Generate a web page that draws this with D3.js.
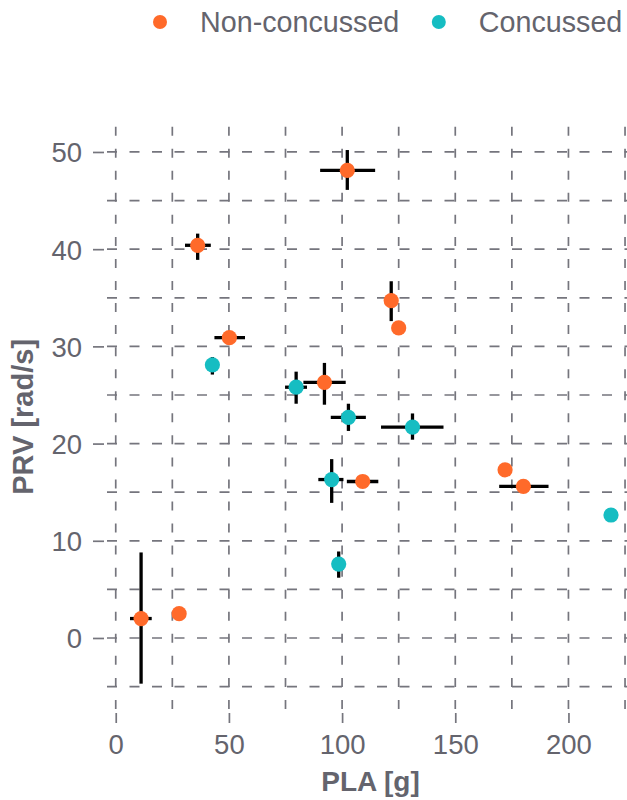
<!DOCTYPE html>
<html>
<head>
<meta charset="utf-8">
<script src="https://cdn.jsdelivr.net/npm/d3@7"></script>
<style>
  html, body { margin: 0; padding: 0; background: #ffffff; }
  svg { display: block; font-family: "Liberation Sans", Arial, sans-serif; }
</style>
</head>
<body>
<svg id="chart" width="627" height="800"></svg>
<script>
// ---- data ----
const groups = ["Non-concussed", "Concussed"];
const colors = ["#FF6A2A", "#16BDC2"];

const nonPLA    = [102.3, 36.2, 50.2, 121.7, 125.0, 92.2, 109.1, 172.0, 180.1, 11.2, 28.0];
const nonPRV    = [48.1, 40.4, 30.9, 34.7, 31.9, 26.3, 16.1, 17.3, 15.6, 2.0, 2.5];
const nonPLAlo  = [90.3, 30.6, 43.6, null, null, 82.9, 102.1, null, 169.4, 6.3, null];
const nonPLAhi  = [114.6, 42.0, 57.1, null, null, 101.6, 116.0, null, 191.2, 15.9, null];
const nonPRVlo  = [46.1, 38.9, null, 32.6, null, 24.0, null, null, null, -4.7, null];
const nonPRVhi  = [50.2, 41.6, null, 36.7, null, 28.3, null, null, null, 8.8, null];

const conPLA    = [42.7, 79.7, 102.8, 131.1, 95.4, 98.5, 218.8];
const conPRV    = [28.1, 25.8, 22.7, 21.7, 16.3, 7.6, 12.65];
const conPLAlo  = [null, 74.8, 95.0, 117.2, 89.5, null, null];
const conPLAhi  = [null, 84.5, 110.5, 144.8, 100.6, null, null];
const conPRVlo  = [27.1, 24.1, 21.3, 20.4, 13.9, 6.2, null];
const conPRVhi  = [28.9, 27.4, 24.1, 23.1, 18.4, 8.9, null];

const xTicks = [0, 50, 100, 150, 200];
const yTicks = [0, 10, 20, 30, 40, 50];
const xGrid  = [0, 25, 50, 75, 100, 125, 150, 175, 200, 225];
const yGrid  = [-5, 0, 5, 10, 15, 20, 25, 30, 35, 40, 45, 50];
const xTitle = "PLA [g]";
const yTitle = "PRV [rad/s]";

// ---- build rows ----
function rows(g, pla, prv, xlo, xhi, ylo, yhi) {
  return pla.map((v, i) => ({ g, x: v, y: prv[i], xlo: xlo[i], xhi: xhi[i], ylo: ylo[i], yhi: yhi[i] }));
}
const data = rows(0, nonPLA, nonPRV, nonPLAlo, nonPLAhi, nonPRVlo, nonPRVhi)
  .concat(rows(1, conPLA, conPRV, conPLAlo, conPLAhi, conPRVlo, conPRVhi));

// ---- layout ----
const svg = d3.select("#chart");
const panel = { left: 106, right: 635, top: 123.3, bottom: 710.4 };
const x = d3.scaleLinear().domain([-4.3, 229.4]).range([panel.left, panel.right]);
const y = d3.scaleLinear().domain([-7.45, 52.95]).range([panel.bottom, panel.top]);

const textCol = "#64646d";
const gridCol = "#75757d";

// gridlines
const grid = svg.append("g");
grid.selectAll("line.v").data(xGrid).join("line")
  .attr("x1", d => x(d)).attr("x2", d => x(d))
  .attr("y1", panel.top).attr("y2", panel.bottom)
  .attr("stroke", gridCol).attr("stroke-width", 1.7)
  .attr("stroke-dasharray", "9,13.05").attr("stroke-dashoffset", 18.7);
grid.selectAll("line.h").data(yGrid).join("line")
  .attr("x1", panel.left).attr("x2", 640)
  .attr("y1", d => y(d)).attr("y2", d => y(d))
  .attr("stroke", gridCol).attr("stroke-width", 1.7)
  .attr("stroke-dasharray", "10,12.5").attr("stroke-dashoffset", 21.5);

// axes ticks & labels
const xAxis = d3.axisBottom(x).tickValues(xTicks).tickSize(0).tickPadding(0).tickFormat(d3.format("d"));
const gx = svg.append("g").attr("transform", `translate(0,${panel.bottom})`).call(xAxis);
gx.select(".domain").remove();
gx.selectAll(".tick text").attr("y", 44).attr("dy", null)
  .attr("fill", textCol).style("font-size", "27.5px").style("font-family", "Liberation Sans, Arial, sans-serif");
gx.selectAll(".tick").append("line")
  .attr("y1", 2.6).attr("y2", 12.6).attr("stroke", gridCol).attr("stroke-width", 1.7);

const yAxis = d3.axisLeft(y).tickValues(yTicks).tickSize(0).tickPadding(0).tickFormat(d3.format("d"));
const gy = svg.append("g").attr("transform", `translate(${panel.left},0)`).call(yAxis);
gy.select(".domain").remove();
gy.selectAll(".tick text").attr("x", -24).attr("dy", "0.36em")
  .attr("fill", textCol).style("font-size", "27.5px").style("font-family", "Liberation Sans, Arial, sans-serif");
gy.selectAll(".tick").append("line")
  .attr("x1", -13).attr("x2", -2).attr("stroke", gridCol).attr("stroke-width", 1.7);

// axis titles
svg.append("text").attr("x", (panel.left + panel.right) / 2).attr("y", 791)
  .attr("text-anchor", "middle").attr("fill", textCol)
  .style("font-size", "28px").style("font-weight", "bold").text(xTitle);
svg.append("text").attr("transform", `translate(33,${(panel.top + panel.bottom) / 2}) rotate(-90)`)
  .attr("text-anchor", "middle").attr("fill", textCol)
  .style("font-size", "29px").style("font-weight", "bold").text(yTitle);

// error bars
const eb = svg.append("g");
eb.selectAll("line.ex").data(data.filter(d => d.xlo != null)).join("line")
  .attr("x1", d => x(d.xlo)).attr("x2", d => x(d.xhi))
  .attr("y1", d => y(d.y)).attr("y2", d => y(d.y))
  .attr("stroke", "#000").attr("stroke-width", 3.3);
eb.selectAll("line.ey").data(data.filter(d => d.ylo != null)).join("line")
  .attr("x1", d => x(d.x)).attr("x2", d => x(d.x))
  .attr("y1", d => y(d.ylo)).attr("y2", d => y(d.yhi))
  .attr("stroke", "#000").attr("stroke-width", 3.3);

// points
svg.append("g").selectAll("circle").data(data).join("circle")
  .attr("cx", d => x(d.x)).attr("cy", d => y(d.y)).attr("r", 7.6)
  .attr("fill", d => colors[d.g]);

// legend
const legX = [160, 438.8], legTX = [200, 478.8];
const leg = svg.append("g");
groups.forEach((g, i) => {
  leg.append("circle").attr("cx", legX[i]).attr("cy", 22).attr("r", 7).attr("fill", colors[i]);
  leg.append("text").attr("x", legTX[i]).attr("y", 32).attr("fill", textCol)
    .style("font-size", "28.7px").text(g);
});
</script>
</body>
</html>
